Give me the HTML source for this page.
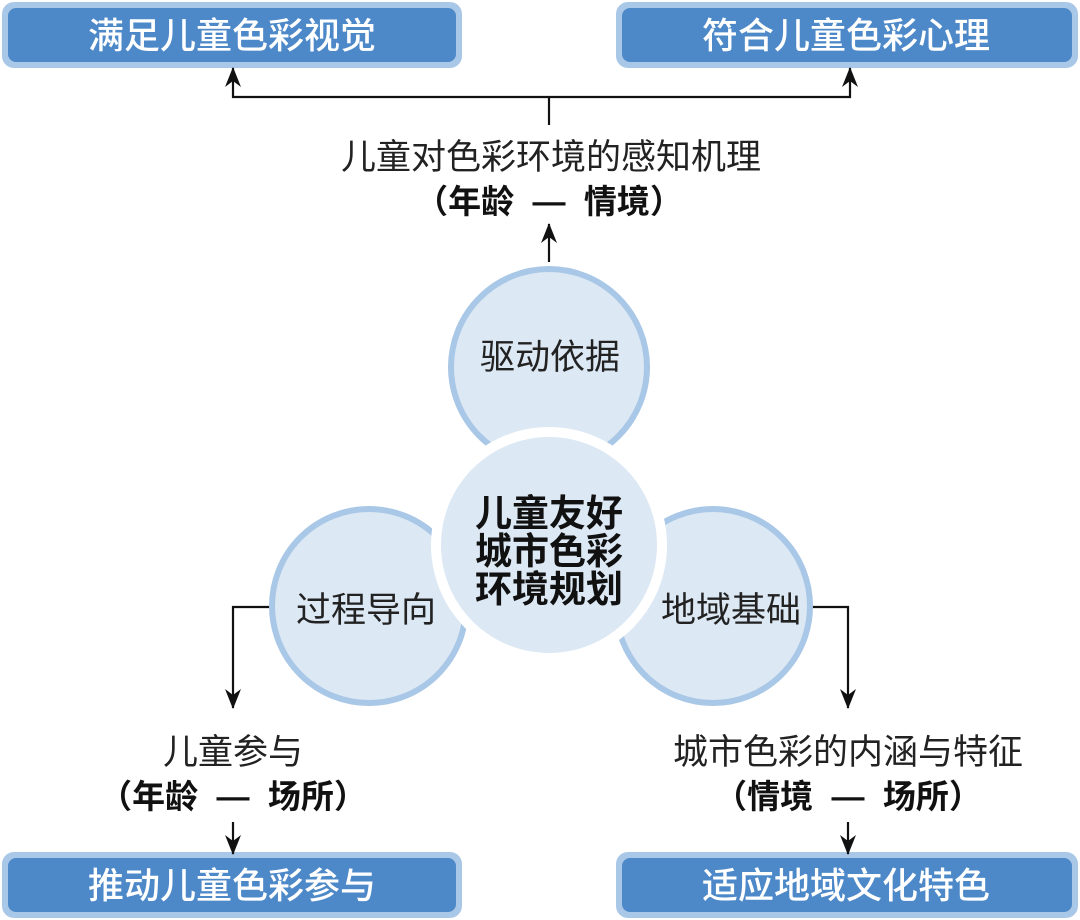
<!DOCTYPE html>
<html><head><meta charset="utf-8"><style>
html,body{margin:0;padding:0;background:#fff;width:1080px;height:920px;overflow:hidden}
svg{display:block}
text{font-family:"Liberation Sans","Noto Sans CJK SC",sans-serif}
</style></head><body>
<svg width="1080" height="920" viewBox="0 0 1080 920" xmlns="http://www.w3.org/2000/svg">
<defs>
<marker id="a" markerWidth="20" markerHeight="16" refX="19" refY="8" orient="auto" markerUnits="userSpaceOnUse" viewBox="0 0 20 16">
<path d="M0,0 L20,8 L0,16 L6,8 Z" fill="#111"/></marker>
</defs>
<g>
<rect x="2" y="2" width="460" height="66" rx="12" fill="#a9c7e6"/>
<rect x="8" y="8" width="448" height="54" rx="8" fill="#4d89c8"/>
<rect x="616" y="2" width="462" height="66" rx="12" fill="#a9c7e6"/>
<rect x="622" y="8" width="450" height="54" rx="8" fill="#4d89c8"/>
<rect x="2" y="852" width="460" height="66" rx="12" fill="#a9c7e6"/>
<rect x="8" y="858" width="448" height="54" rx="8" fill="#4d89c8"/>
<rect x="616" y="852" width="462" height="66" rx="12" fill="#a9c7e6"/>
<rect x="622" y="858" width="450" height="54" rx="8" fill="#4d89c8"/>
</g>
<g fill="#fff" font-size="36" font-weight="500" text-anchor="middle">
<text x="232" y="48">满足儿童色彩视觉</text>
<text x="846" y="48">符合儿童色彩心理</text>
<text x="232" y="898">推动儿童色彩参与</text>
<text x="846" y="898">适应地域文化特色</text>
</g>
<g stroke="#111" stroke-width="2.2" fill="none">
<path d="M549,125 V97"/>
<path d="M549,97 H233 V68" marker-end="url(#a)"/>
<path d="M549,97 H850 V68" marker-end="url(#a)"/>
<path d="M549,262 V224" marker-end="url(#a)"/>
<path d="M272,607 H233 V708" marker-end="url(#a)"/>
<path d="M233,822 V854" marker-end="url(#a)"/>
<path d="M810,607 H848 V708" marker-end="url(#a)"/>
<path d="M848,822 V854" marker-end="url(#a)"/>
</g>
<g fill="#dce8f4" stroke="#a9c7e6" stroke-width="6">
<circle cx="549" cy="367" r="98"/>
<circle cx="369" cy="606" r="97"/>
<circle cx="713" cy="606" r="97"/>
</g>
<circle cx="549" cy="545" r="118" fill="#fff"/>
<circle cx="549" cy="545" r="108" fill="#dce8f4"/>
<g fill="#222" font-size="35" text-anchor="middle">
<text x="550" y="369">驱动依据</text>
<text x="366" y="622">过程导向</text>
<text x="731" y="622">地域基础</text>
</g>
<g fill="#111" font-size="37" font-weight="bold" text-anchor="middle">
<text x="549" y="526">儿童友好</text>
<text x="549" y="564">城市色彩</text>
<text x="549" y="602">环境规划</text>
</g>
<g fill="#222" font-size="35" text-anchor="middle">
<text x="551" y="169">儿童对色彩环境的感知机理</text>
<text x="233" y="764">儿童参与</text>
<text x="848" y="764">城市色彩的内涵与特征</text>
</g>
<g fill="#111" font-size="33" font-weight="bold" text-anchor="middle">
<text x="549" y="213" xml:space="preserve">（年龄  —  情境）</text>
<text x="233" y="808" xml:space="preserve">（年龄  —  场所）</text>
<text x="848" y="808" xml:space="preserve">（情境  —  场所）</text>
</g>
</svg>
</body></html>
